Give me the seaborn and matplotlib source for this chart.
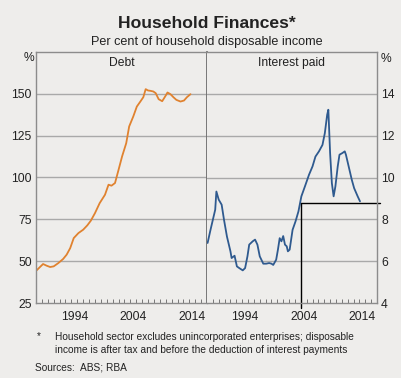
import numpy as np
import pandas as pd
import matplotlib
matplotlib.use("Agg")
import matplotlib.pyplot as plt
import seaborn as sns

# Household debt, per cent of disposable income
debt_years = [1988.1, 1988.5, 1989.2, 1989.8, 1990.4, 1991.0, 1991.8, 1992.6, 1993.2, 1993.8,
              1994.4, 1995.2, 1996.0, 1996.7, 1997.3, 1998.0, 1998.8, 1999.7, 2000.3, 2000.8,
              2001.4, 2002.0, 2002.6, 2003.3, 2003.8, 2004.5, 2005.1, 2005.7, 2006.2, 2006.6,
              2007.0, 2007.4, 2007.9, 2008.3, 2008.8, 2009.4, 2009.9, 2010.3, 2010.8, 2011.3,
              2011.8, 2012.5, 2013.1, 2013.6, 2014.2]
debt_values = [44.5, 45.9, 48.3, 47.3, 46.5, 46.9, 48.9, 51.3, 53.9, 57.8,
               63.8, 66.8, 68.8, 71.4, 74.2, 78.7, 84.7, 89.7, 95.7, 95.1,
               96.7, 104.6, 112.6, 120.5, 130.5, 136.5, 142.4, 145.4, 148.0, 152.8,
               152.0, 151.8, 151.4, 150.4, 146.8, 145.6, 148.4, 150.8, 149.8, 148.0,
               146.4, 145.4, 146.0, 148.0, 149.8]

# Interest paid, per cent of disposable income
interest_years = [1988.1, 1988.6, 1989.0, 1989.4, 1989.6, 1990.0, 1990.5, 1990.9, 1991.4, 1992.0,
                  1992.2, 1992.7, 1993.1, 1993.5, 1994.1, 1994.5, 1994.9, 1995.2, 1995.8, 1996.2,
                  1996.6, 1997.0, 1997.6, 1998.1, 1998.6, 1999.0, 1999.3, 1999.8, 2000.1, 2000.4,
                  2000.7, 2001.0, 2001.3, 2001.6, 2001.8, 2002.1, 2002.6, 2003.1, 2003.6, 2004.1,
                  2004.7, 2005.4, 2006.0, 2006.5, 2007.1, 2007.7, 2008.1, 2008.5, 2008.7, 2009.0,
                  2009.3, 2009.6, 2009.9, 2010.3, 2010.6, 2011.1, 2011.5, 2011.7, 2012.3, 2012.7,
                  2013.1, 2013.7, 2014.1]
interest_values = [6.87, 7.5, 7.98, 8.46, 9.33, 8.94, 8.7, 7.98, 7.18, 6.47,
                   6.15, 6.26, 5.75, 5.67, 5.56, 5.67, 6.23, 6.79, 6.95, 7.03,
                   6.79, 6.23, 5.88, 5.88, 5.91, 5.88, 5.82, 6.07, 6.55, 7.1,
                   6.95, 7.2, 6.79, 6.71, 6.47, 6.55, 7.5, 7.9, 8.38, 9.1,
                   9.57, 10.13, 10.53, 11.0, 11.25, 11.56, 12.12, 13.0, 13.24, 11.17,
                   9.73, 9.1, 9.57, 10.53, 11.09, 11.17, 11.25, 11.09, 10.37, 9.89,
                   9.49, 9.1, 8.86]

year_labels = ['1994', '2004', '2014']
label_pos = [1994.5, 2004.5, 2014.5]
left_ticks = [25, 50, 75, 100, 125, 150]
right_ticks = [4, 6, 8, 10, 12, 14]

# hand-drawn marker lines on the interest panel
marker_year = 2004.0
marker_level = 8.8

bg = '#eeedeb'
sns.set_theme(style="white")
plt.rcParams.update({
    'figure.facecolor': bg,
    'axes.facecolor': bg,
    'font.family': ['Liberation Sans', 'DejaVu Sans'],
    'text.color': '#222222',
    'xtick.color': '#222222',
    'ytick.color': '#222222',
})

debt_df = pd.DataFrame({'year': debt_years, 'value': debt_values})
int_df = pd.DataFrame({'year': interest_years, 'value': interest_values})

fig = plt.figure(figsize=(4.02, 3.78), dpi=100)
ax1 = fig.add_axes([36 / 402, 75 / 378, 171 / 402, 251 / 378])
ax2 = fig.add_axes([207 / 402, 75 / 378, 170 / 402, 251 / 378])

sns.lineplot(data=debt_df, x='year', y='value', ax=ax1, color='#e0822f', lw=1.3)
sns.lineplot(data=int_df, x='year', y='value', ax=ax2, color='#2f5a8f', lw=1.3)

ax1.set_ylim(25, 175)
ax2.set_ylim(4, 16)
for ax in (ax1, ax2):
    ax.set_xlim(1988, 2017)
    ax.set_xlabel('')
    ax.set_ylabel('')
    ax.set_xticks(np.arange(1989, 2017))
    ax.set_xticklabels([])
    ax.tick_params(axis='x', which='major', direction='in', length=3, width=0.7,
                   color='#777777', bottom=True)
    ax.set_xticks(label_pos, year_labels, minor=True)
    ax.tick_params(axis='x', which='minor', length=0, labelsize=8.7, pad=6)
    for s in ax.spines.values():
        s.set_color('#8c8c8c')
        s.set_linewidth(1.0)
    ax.grid(False)

ax1.set_yticks(left_ticks)
ax1.tick_params(axis='y', length=0, labelsize=8.7, pad=3)
for v in left_ticks[1:]:
    ax1.axhline(v, color='#a9a9a9', lw=1.0, zorder=0)

ax2.yaxis.tick_right()
ax2.set_yticks(right_ticks)
ax2.tick_params(axis='y', length=0, labelsize=8.7, pad=3, left=False, labelleft=False,
                labelright=True)
for v in right_ticks[1:]:
    ax2.axhline(v, color='#a9a9a9', lw=1.0, zorder=0)
ax2.spines['left'].set_visible(False)
ax1.spines['right'].set_color('#6e6e6e')
ax1.spines['right'].set_linewidth(1.3)

ax2.plot([marker_year, marker_year], [3.75, marker_level], color='black', lw=1.0, clip_on=False)
ax2.plot([marker_year, 2017.5], [marker_level, marker_level], color='black', lw=1.0, clip_on=False)

ax1.text(0.5, 0.956, 'Debt', transform=ax1.transAxes, ha='center', va='center', fontsize=8.7)
ax2.text(0.5, 0.956, 'Interest paid', transform=ax2.transAxes, ha='center', va='center', fontsize=8.7)

fig.text(29 / 402, 1 - 58 / 378, '%', ha='center', va='center', fontsize=8.7)
fig.text(386 / 402, 1 - 59 / 378, '%', ha='center', va='center', fontsize=8.7)

fig.text(207 / 402, 1 - 24 / 378, 'Household Finances*', ha='center', va='center',
         fontsize=12.6, fontweight='bold')
fig.text(207 / 402, 1 - 42 / 378, 'Per cent of household disposable income', ha='center',
         va='center', fontsize=9.1)

fig.text(37 / 402, 1 - 336 / 378, '*', ha='left', va='center', fontsize=7.3)
fig.text(55 / 402, 1 - 337 / 378,
         'Household sector excludes unincorporated enterprises; disposable',
         ha='left', va='center', fontsize=7.3)
fig.text(55 / 402, 1 - 350 / 378,
         'income is after tax and before the deduction of interest payments',
         ha='left', va='center', fontsize=7.3)
fig.text(35 / 402, 1 - 368 / 378, 'Sources:  ABS; RBA', ha='left', va='center', fontsize=7.3)

fig.savefig('out.png', dpi=100, facecolor=bg)
